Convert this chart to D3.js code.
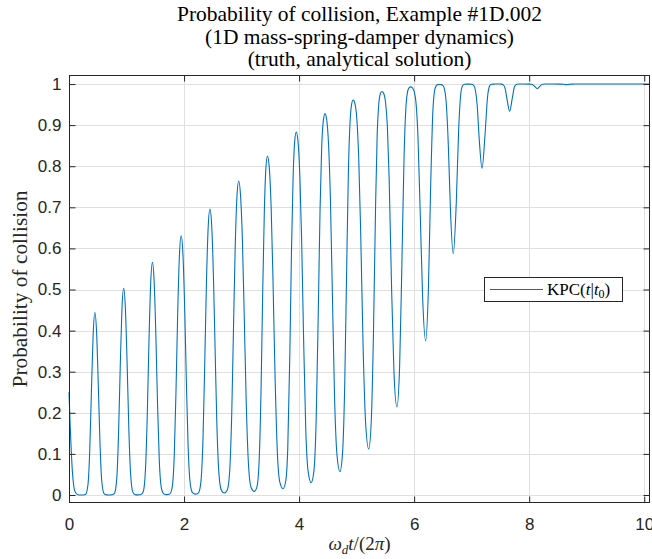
<!DOCTYPE html>
<html><head><meta charset="utf-8">
<script src="https://cdn.jsdelivr.net/npm/d3@7"></script>
<style>body{margin:0;background:#fff}svg{display:block}</style>
</head><body><svg id="c" width="652" height="559"></svg>
<script>
// time axis values (omega_d t / 2pi) and probability of collision
const tVals = [
0.00,0.02,0.04,0.06,0.08,0.10,0.13,0.16,0.20,
0.25,0.29,0.33,0.36,0.39,0.42,0.45,
0.48,0.51,0.54,0.57,0.61,0.65,0.70,
0.75,0.79,0.83,0.86,0.89,0.92,0.95,
0.98,1.01,1.04,1.07,1.11,1.15,1.20,
1.25,1.29,1.33,1.36,1.39,1.42,1.45,
1.48,1.51,1.54,1.57,1.61,1.65,1.70,
1.75,1.79,1.83,1.86,1.89,1.92,1.95,
1.98,2.01,2.04,2.07,2.11,2.15,2.20,
2.25,2.29,2.33,2.36,2.39,2.42,2.45,
2.48,2.51,2.54,2.57,2.61,2.65,2.70,
2.75,2.79,2.83,2.86,2.89,2.92,2.95,
2.982,3.015,3.047,3.080,3.123,3.166,3.22,
3.266,3.303,3.340,3.367,3.395,3.422,3.45,
3.482,3.515,3.547,3.580,3.623,3.666,3.72,
3.766,3.803,3.840,3.867,3.895,3.922,3.95,
3.981,4.012,4.044,4.075,4.116,4.158,4.21,
4.258,4.296,4.335,4.364,4.392,4.421,4.45,
4.481,4.512,4.544,4.575,4.616,4.658,4.71,
4.756,4.793,4.830,4.857,4.885,4.912,4.94,
4.972,5.005,5.037,5.070,5.113,5.156,5.21,
5.256,5.293,5.330,5.357,5.385,5.412,5.44,
5.471,5.502,5.534,5.565,5.606,5.648,5.70,
5.748,5.786,5.825,5.854,5.882,5.911,5.94,
5.971,6.002,6.034,6.065,6.106,6.148,6.20,
6.248,6.286,6.325,6.354,6.382,6.411,6.44,
6.469,6.498,6.526,6.555,6.594,6.632,6.68,
6.732,6.774,6.815,6.846,6.878,6.909,6.94,
6.969,6.998,7.026,7.055,7.094,7.132,7.18,
7.232,7.274,7.315,7.346,7.378,7.409,7.44,
7.466,7.493,7.519,7.546,7.581,7.616,7.66,
7.708,7.746,7.785,7.814,7.90,
8.015,8.054,8.092,8.14,
8.192,8.234,8.275,8.40,8.55,8.60,8.64,8.69,8.74,8.80,9.5,10.1
];
const pVals = [
0.25,0.17,0.105,0.055,0.025,0.010,0.003,0.0005,0,
0.0001,0.0019,0.0256,0.106,0.253,0.391,0.444,
0.395,0.264,0.120,0.0335,0.0033,0.0003,0,
0.0004,0.0038,0.0398,0.142,0.308,0.451,0.503,
0.455,0.322,0.162,0.0535,0.007,0.0009,0.0003,
0.001,0.0079,0.0633,0.1916,0.373,0.5156,0.566,
0.520,0.389,0.216,0.0826,0.014,0.0023,0.0008,
0.0024,0.0158,0.097,0.253,0.4455,0.584,0.631,
0.588,0.460,0.278,0.121,0.0252,0.005,0.002,
0.0053,0.0283,0.1407,0.322,0.521,0.653,0.696,
0.657,0.537,0.354,0.1747,0.0453,0.0112,0.005,
0.0118,0.0512,0.204,0.410,0.607,0.727,0.764,
0.729,0.617,0.431,0.230,0.067,0.0182,0.0085,
0.0191,0.0755,0.2666,0.4924,0.686,0.7936,0.825,
0.796,0.696,0.5175,0.3015,0.1005,0.0305,0.015,
0.0322,0.114,0.350,0.589,0.769,0.858,0.883,
0.8606,0.7805,0.621,0.402,0.159,0.0563,0.030,
0.0593,0.1785,0.458,0.692,0.843,0.9104,0.928,
0.912,0.8527,0.722,0.514,0.2395,0.0985,0.057,
0.1037,0.2673,0.577,0.7885,0.9044,0.9498,0.961,
0.9511,0.9126,0.8175,0.643,0.3587,0.1757,0.112,
0.1843,0.396,0.7075,0.8745,0.9506,0.9764,0.982,
0.9772,0.9562,0.898,0.772,0.5148,0.3026,0.214,
0.315,0.556,0.8254,0.9365,0.9783,0.9905,0.993,
0.9909,0.9814,0.9517,0.8766,0.684,0.4785,0.375,
0.503,0.745,0.9323,0.9827,0.9957,0.9985,0.999,
0.9986,0.9965,0.9883,0.9595,0.8518,0.6894,0.587,
0.710,0.8897,0.9812,0.9967,0.9994,0.9998,0.9999,
0.9999,0.9996,0.9981,0.9909,0.951,0.8646,0.795,
0.8762,0.9658,0.9962,0.9995,0.9999,1.0,1.0,
1.0,1.0,0.9998,0.9986,0.9895,0.9619,0.934,
0.9671,0.9939,0.9996,1.0,1.0,
0.9999,0.9989,0.9946,0.989,
0.9956,0.9995,1.0,1.0,0.9998,0.9993,0.9985,0.9992,0.9998,1.0,1.0,1.0
];
const xTicks = [0,2,4,6,8,10];
const yTicks = [0,0.1,0.2,0.3,0.4,0.5,0.6,0.7,0.8,0.9,1];
const yTickLabels = ["0","0.1","0.2","0.3","0.4","0.5","0.6","0.7","0.8","0.9","1"];
const xDomain = [0, 10.1];
const yDomain = [-0.0195, 1.022];
const titleLines = ["Probability of collision, Example #1D.002","(1D mass-spring-damper dynamics)","(truth, analytical solution)"];
const yLabel = "Probability of collision";

const W = 652, H = 559;
const L = 69, R = 650, T = 75, B = 503;
const axisColor = "#262626", gridColor = "#dfdfdf", lineColor = "#0072BD";
const sansFont = "'Liberation Sans', Arial, Helvetica, sans-serif";
const serifFont = "'Liberation Serif', 'Times New Roman', serif";

const svg = d3.select("#c");
const x = d3.scaleLinear().domain(xDomain).range([L, R]);
const y = d3.scaleLinear().domain(yDomain).range([B, T]);

// grid
const g = svg.append("g");
g.selectAll("line.gx").data(xTicks.filter(d => d > 0)).enter().append("line")
  .attr("x1", d => Math.round(x(d)) + 0.5).attr("x2", d => Math.round(x(d)) + 0.5)
  .attr("y1", T).attr("y2", B).attr("stroke", gridColor).attr("stroke-width", 1);
g.selectAll("line.gy").data(yTicks).enter().append("line")
  .attr("y1", d => Math.round(y(d)) + 0.5).attr("y2", d => Math.round(y(d)) + 0.5)
  .attr("x1", L).attr("x2", R).attr("stroke", gridColor).attr("stroke-width", 1);

// data line
const data = tVals.map((t, i) => [t, pVals[i]]);
svg.append("path").datum(data)
  .attr("fill", "none").attr("stroke", lineColor).attr("stroke-width", 1.1)
  .attr("stroke-linejoin", "round")
  .attr("d", d3.line().x(d => x(d[0])).y(d => y(d[1])).curve(d3.curveMonotoneX));

// axes with inward ticks using d3 axes
const tick = 6;
const axB = svg.append("g").attr("transform", `translate(0,${B - 0.5})`)
  .call(d3.axisBottom(x).tickValues(xTicks).tickSize(-tick).tickPadding(15).tickFormat(d3.format("d")));
const axT = svg.append("g").attr("transform", `translate(0,${T + 0.5})`)
  .call(d3.axisTop(x).tickValues(xTicks).tickSize(-tick).tickFormat(""));
const axL = svg.append("g").attr("transform", `translate(${L + 0.5},0)`)
  .call(d3.axisLeft(y).tickValues(yTicks).tickSize(-tick).tickPadding(8).tickFormat((d, i) => yTickLabels[i]));
const axR = svg.append("g").attr("transform", `translate(${R - 0.5},0)`)
  .call(d3.axisRight(y).tickValues(yTicks).tickSize(-tick).tickFormat(""));
[axB, axT, axL, axR].forEach(a => {
  a.select(".domain").remove();
  a.selectAll(".tick line").attr("stroke", axisColor).attr("stroke-width", 1);
  a.selectAll(".tick text").attr("fill", axisColor).style("font-family", sansFont).style("font-size", "17px");
});
axB.selectAll(".tick text").attr("dy", "0.71em");
// axis box
svg.append("rect").attr("x", L + 0.5).attr("y", T + 0.5).attr("width", R - L - 1).attr("height", B - T - 1)
  .attr("fill", "none").attr("stroke", axisColor).attr("stroke-width", 1);

// title
function fit(sel, target) {
  const w = sel.node().getComputedTextLength();
  const fs = parseFloat(sel.style("font-size"));
  sel.style("font-size", (fs * target / w) + "px");
  return fs * target / w;
}
const cx = (L + R) / 2;
const tBase = [21, 43.5, 65.5];
const titleSel = svg.selectAll("text.title").data(titleLines).enter().append("text")
  .attr("class", "title").attr("x", cx).attr("y", (d, i) => tBase[i])
  .attr("text-anchor", "middle").attr("fill", "#000")
  .style("font-family", serifFont).style("font-size", "19px").text(d => d);
const fsT = fit(d3.select(titleSel.nodes()[0]), 365);
titleSel.style("font-size", fsT + "px");

// y label
const yl = svg.append("text").attr("transform", `translate(27,289) rotate(-90)`)
  .attr("text-anchor", "middle").attr("fill", axisColor)
  .style("font-family", serifFont).style("font-size", "19px").text(yLabel);
fit(yl, 197);

// x label: \omega_d t/(2\pi)
const xl = svg.append("text").attr("x", cx).attr("y", 550).attr("text-anchor", "middle")
  .attr("fill", axisColor).style("font-family", serifFont).style("font-size", "19px");
xl.append("tspan").style("font-style", "italic").text("ω");
xl.append("tspan").style("font-style", "italic").style("font-size", "13px").attr("dy", 4).text("d");
xl.append("tspan").style("font-style", "italic").attr("dy", -4).text("t");
xl.append("tspan").text("/(2");
xl.append("tspan").style("font-style", "italic").text("π");
xl.append("tspan").text(")");

// legend
const lg = svg.append("g");
lg.append("rect").attr("x", 484.5).attr("y", 277.5).attr("width", 138).attr("height", 24)
  .attr("fill", "#fff").attr("stroke", axisColor).attr("stroke-width", 1);
lg.append("line").attr("x1", 490).attr("x2", 543).attr("y1", 289.5).attr("y2", 289.5)
  .attr("stroke", lineColor).attr("stroke-width", 1.1);
const lt = lg.append("text").attr("x", 547).attr("y", 295).attr("fill", "#000")
  .style("font-family", serifFont).style("font-size", "17px");
lt.append("tspan").text("KPC(");
lt.append("tspan").style("font-style", "italic").text("t");
lt.append("tspan").text("|");
lt.append("tspan").style("font-style", "italic").text("t");
lt.append("tspan").style("font-size", "12px").attr("dy", 3).text("0");
lt.append("tspan").attr("dy", -3).text(")");
</script></body></html>
